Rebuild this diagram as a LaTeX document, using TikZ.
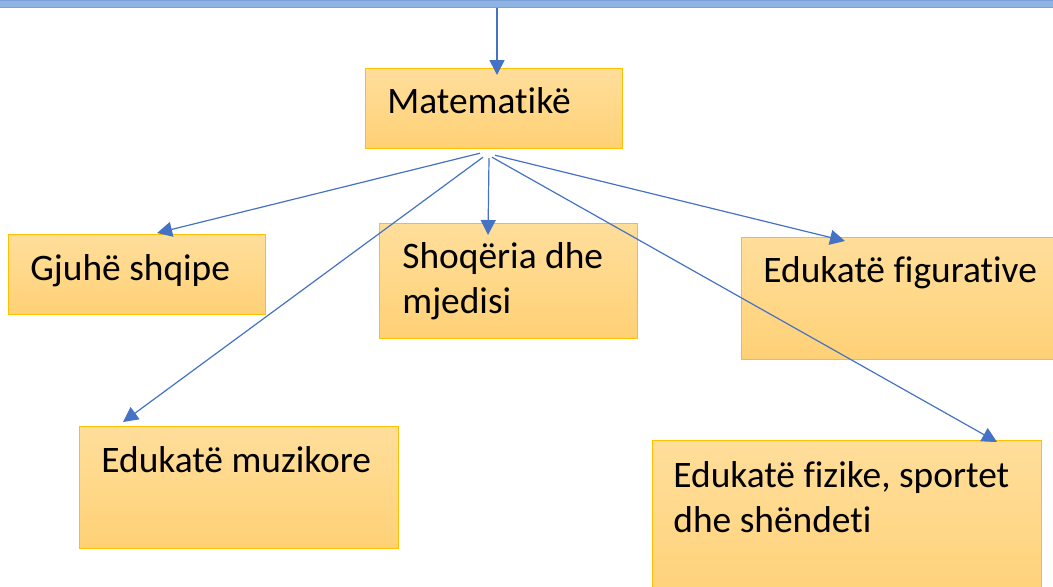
\documentclass[tikz,border=0pt]{standalone}
\usepackage{fontspec}
\setmainfont[Ligatures=NoCommon]{Carlito}
\usetikzlibrary{arrows.meta, positioning}
\definecolor{boxtop}{RGB}{255,222,155}
\definecolor{boxbot}{RGB}{255,209,118}
\definecolor{boxline}{RGB}{255,192,0}
\definecolor{linkblue}{RGB}{68,114,196}
\definecolor{barblue}{RGB}{143,180,227}
\definecolor{barline}{RGB}{118,160,214}

\begin{document}
\begin{tikzpicture}[
    x=0.5pt, y=-0.5pt,
    font=\fontsize{18.7}{22.5}\selectfont,
    subject/.style={draw=boxline, line width=0.6pt, top color=boxtop, bottom color=boxbot, anchor=north west, inner sep=0pt},
    caption/.style={anchor=base west, align=left, inner sep=0pt},
    link/.style={linkblue, line width=0.6pt, -{Triangle[length=7.5pt, width=7.5pt]}}
]
    \useasboundingbox (0,0) rectangle (1053,586);
    \clip (0,0) rectangle (1053,586);

    % Boxes
    \node[fill=barblue, draw=barline, line width=0.5pt, anchor=north west, inner sep=0pt, minimum width=540pt, minimum height=3.5pt] (top) at (-10,0) {};
    \node[subject, minimum width=128.5pt, minimum height=40pt] (mat) at (365,68) {};
    \node[subject, minimum width=128.5pt, minimum height=40pt] (gjuhe) at (8,234) {};
    \node[subject, minimum width=129pt, minimum height=57.5pt] (shoq) at (379,223) {};
    \node[subject, minimum width=160pt, minimum height=61pt] (fig) at (741,237) {};
    \node[subject, minimum width=159.5pt, minimum height=61pt] (muz) at (79,426) {};
    \node[subject, minimum width=194.5pt, minimum height=85pt] (fiz) at (652,440) {};

    % Texts (base of the last line)
    \node[caption] (matT) at ([shift={(22,45)}]mat.north west) {Matematikë};
    \node[caption] (gjuheT) at ([shift={(22,46)}]gjuhe.north west) {Gjuhë shqipe};
    \node[caption] (shoqT) at ([shift={(23,90)}]shoq.north west) {Shoqëria dhe\\mjedisi};
    \node[caption] (figT) at ([shift={(22,45)}]fig.north west) {Edukatë figurative};
    \node[caption] (muzT) at ([shift={(22,46)}]muz.north west) {Edukatë muzikore};
    \node[caption] (fizT) at ([shift={(21,92)}]fiz.north west) {Edukatë fizike, sportet\\dhe shëndeti};

    % Connections
    \draw[link, line width=0.8pt] ([shift={(507,0)}]top.south west) -- ([shift={(132,7)}]mat.north west);
    \draw[link] ([shift={(115,4)}]mat.south west) -- ([shift={(20,-1)}]gjuhe.north);
    \draw[link] ([shift={(118,8)}]mat.south west) -- ([shift={(44,-4)}]muz.north west);
    \draw[link] ([shift={(124,9)}]mat.south west) -- ([shift={(109,12)}]shoq.north west);
    \draw[link] ([shift={(127,8)}]mat.south west) -- ([shift={(345,2)}]fiz.north west);
    \draw[link] ([shift={(130,6)}]mat.south west) -- ([shift={(104,4)}]fig.north west);
\end{tikzpicture}
\end{document}
